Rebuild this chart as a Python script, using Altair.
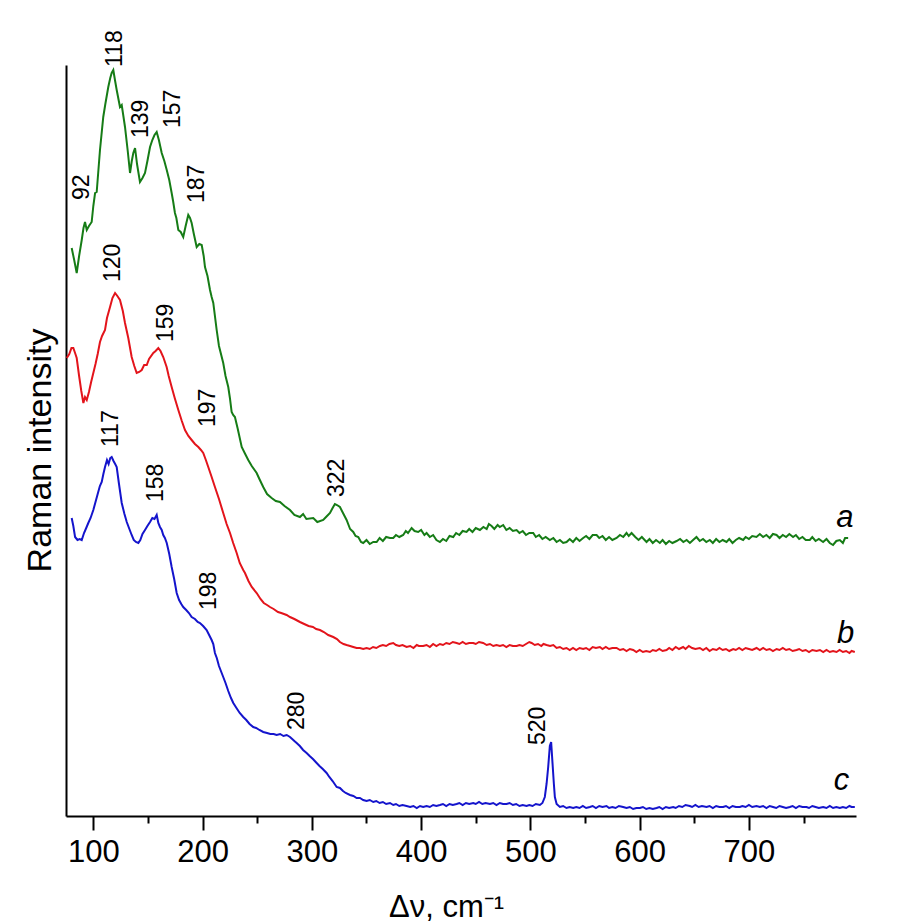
import altair as alt
import pandas as pd

# Raman shift (cm-1), intensity (arbitrary units, offset-stacked curves)
CURVE_A = [
    (80.2, 568), (82.5, 556), (84.8, 543), (87, 560), (89.4, 576), (91, 588), (92.4, 594), (94.0, 586),
    (96, 590), (98.5, 594), (100, 610), (101.6, 623), (103.1, 624), (106.1, 666), (109.1, 699), (111, 712),
    (113.7, 729), (115.5, 738), (116.8, 743), (118.3, 746), (119.8, 736), (121.4, 726), (124.4, 709),
    (126.0, 711), (127.5, 700), (129.0, 689), (131.5, 665), (133.6, 643), (135.2, 655), (136.6, 663),
    (138.2, 668), (140, 652), (142.7, 634), (145, 638), (147.3, 643), (149.5, 655), (151.9, 669), (154, 676),
    (156, 681), (158.0, 684), (160, 676), (162.6, 663), (165, 655), (167.2, 646), (169.5, 636), (171.7, 623),
    (173, 615), (174.7, 603), (176, 598), (177.8, 586), (180, 584), (182.3, 579), (184.5, 590), (186.9, 601),
    (188.5, 598), (190.0, 593), (192, 582), (194.6, 569), (197, 572), (199.2, 571), (201, 560), (202.2, 549),
    (204.5, 540), (206.8, 526), (208.3, 519), (209.8, 513), (212.9, 486), (215, 470), (218.9, 453), (221, 440),
    (223.5, 429), (225, 418), (226.6, 404), (228, 401), (229.6, 399), (232, 388), (235.8, 369), (239, 362),
    (241.8, 356), (245, 350), (249.5, 343), (252, 337), (255.5, 329), (259, 322), (263.2, 318), (267, 315),
    (270.8, 314), (275, 310), (280.0, 306), (284, 301), (289.1, 299), (292, 302), (295, 297), (301.3, 298),
    (305, 294), (310.4, 296), (313, 299), (316.6, 303), (319, 308), (321.1, 312), (323, 311), (325.7, 309),
    (328.5, 303), (331.8, 296), (335, 287), (337.9, 284), (340, 280), (342.5, 279), (345, 274), (347, 273),
    (350, 276), (353, 272), (356.2, 274), (359.3, 274), (362, 278), (365, 275), (368, 279), (371.5, 278),
    (374.5, 278), (377, 281), (380, 279), (383.6, 281), (386, 285), (388, 283), (391.3, 288), (394, 285),
    (397.3, 284), (400, 286), (403, 281), (405, 283), (408.0, 279), (411, 281), (414, 276), (417.2, 274),
    (420, 277), (423, 275), (426, 280), (429.4, 279), (432, 283), (435, 281), (438, 285), (441.6, 284),
    (444, 287), (447, 284), (450, 288), (453.8, 286), (457, 289), (460, 287), (462, 292), (464.5, 290),
    (467, 287), (470, 291), (472, 289), (475.1, 291), (478, 286), (481, 288), (484, 285), (487.4, 286),
    (490, 283), (493, 285), (496, 281), (499, 283), (502.6, 283), (505, 279), (508, 281), (511, 277),
    (514, 279), (517.8, 276), (521, 278), (524, 274), (527, 276), (530, 273), (533.1, 274), (536, 277),
    (539, 274), (542, 278), (545, 275), (548.3, 278), (551, 280), (554, 277), (557, 281), (560.6, 281),
    (563, 278), (566, 280), (569, 276), (572, 279), (575, 276), (578.9, 278), (582, 281), (585, 279),
    (588, 283), (590, 280), (592.6, 283), (596, 279), (599, 276), (602, 279), (606.3, 274), (609, 277),
    (612, 273), (615, 276), (618.5, 273), (621, 276), (624, 272), (627, 275), (630, 273), (633.8, 275),
    (637, 277), (640, 274), (643, 276), (646, 273), (648.9, 276), (652, 279), (655, 275), (658, 277),
    (661, 274), (664.2, 276), (667, 273), (670, 277), (673, 274), (676, 276), (679.5, 274), (682, 277),
    (685, 273), (688, 276), (691, 278), (694.7, 276), (697, 279), (700, 277), (703, 280), (706.9, 279),
    (710, 282), (713, 279), (716, 281), (719, 278), (722, 282), (725.3, 281), (728, 278), (731, 281),
    (734, 279), (737, 282), (740.4, 279), (743, 281), (746, 277), (749, 279), (752, 276), (755.7, 276),
    (758, 279), (761, 275), (764, 277), (767.9, 274), (771, 277), (774, 273), (777.0, 271), (780, 275),
    (783.2, 276), (786, 273), (788, 278), (790.8, 278),
]

CURVE_B = [
    (75.7, 458), (78, 462), (80, 468), (81.7, 468), (83.3, 463), (84.8, 458), (87, 440), (89, 425),
    (90.9, 413), (92.4, 419), (94.0, 416), (96, 424), (98, 434), (100.0, 443), (102, 452), (104, 462),
    (106.1, 474), (108, 480), (110.7, 486), (112.5, 498), (115.3, 509), (117.5, 518), (119.9, 523), (122, 520),
    (124.4, 516), (127, 505), (129.0, 493), (132, 478), (135.1, 459), (137.5, 450), (139.7, 443), (142, 444),
    (144.3, 446), (146.5, 451), (148.9, 451), (151, 457), (154.9, 463), (157, 465), (159.5, 468), (161.5, 465),
    (164.0, 459), (167.1, 449), (169, 440), (171.7, 429), (174.5, 418), (177.8, 406), (181, 395), (183.9, 386),
    (187, 380), (190.0, 376), (193, 372), (196.1, 369), (198.5, 366), (200.6, 363), (203, 356), (205.2, 349),
    (208, 340), (211.3, 329), (215, 317), (218.9, 303), (222, 292), (225.1, 283), (228.0, 273), (231.2, 263),
    (234, 253), (237.2, 246), (238.8, 243), (242, 235), (245, 229), (249.5, 223), (253, 217), (256, 213),
    (259, 211), (261.7, 209), (265, 207), (269, 204), (272, 203), (276.9, 201), (280, 199), (284, 197),
    (289.1, 194), (293, 192), (297, 190), (301, 189), (304, 187), (307.4, 186), (311, 184), (315, 181),
    (319.6, 179), (323, 177), (325.7, 174), (329, 172), (331.8, 171), (335, 170), (337.9, 169), (341, 168),
    (344.0, 168), (347, 167), (350.1, 168), (353, 167), (356, 169), (359, 168), (362.3, 170), (365, 171),
    (368, 170), (371, 172), (374.5, 173), (377, 171), (380, 170), (383, 171), (386.7, 169), (390, 170),
    (393, 168), (396, 171), (398, 170), (401.9, 170), (405, 171), (408, 169), (411, 172), (414, 170),
    (417.2, 172), (420, 171), (423, 173), (426, 172), (429, 174), (432.5, 173), (435, 172), (438, 174),
    (441, 172), (444, 173), (447.7, 173), (450, 172), (453, 174), (456.8, 173), (460, 171), (463, 172),
    (466, 170), (469, 171), (472.1, 170), (475, 171), (478, 169), (481, 171), (484, 170), (487.4, 170),
    (490, 171), (493, 170), (496, 172), (499, 174), (501.1, 173), (504, 171), (507, 172), (510, 170),
    (512, 172), (514.8, 171), (518, 170), (521, 171), (524, 168), (527, 169), (530, 167), (533.1, 168),
    (536, 166), (539, 168), (542, 166), (545, 168), (548.3, 167), (551, 168), (554, 166), (557, 169),
    (560, 168), (563.6, 169), (566, 167), (569, 169), (572, 167), (575, 168), (578.9, 168), (582, 166),
    (585, 167), (588, 165), (591, 167), (594.1, 166), (597, 164), (600, 166), (603, 164), (606, 165),
    (609.4, 164), (612, 166), (615, 165), (618, 167), (621, 165), (624.6, 166), (627, 168), (630, 166),
    (633, 169), (636, 167), (639.8, 169), (642, 167), (645, 170), (648, 168), (651, 167), (655.1, 168),
    (658, 166), (661, 168), (664, 165), (667, 167), (670.4, 166), (673, 168), (676, 166), (679, 167),
    (682, 165), (685.6, 167), (688, 166), (691, 168), (694, 166), (697, 168), (700, 167), (703, 166),
    (707.0, 168), (710, 166), (713, 168), (716, 166), (719, 167), (722, 165), (725.3, 167), (728, 166),
    (731, 168), (734, 166), (737, 167), (740, 165), (743.6, 166), (746, 167), (749, 165), (752, 166),
    (755, 164), (758, 166), (761.9, 165), (765, 166), (768, 164), (771, 166), (774, 164), (777, 165),
    (780.2, 164), (783, 166), (786, 164), (789, 165), (792, 163), (794, 165), (796.9, 164),
]

CURVE_C = [
    (80.2, 298), (81.7, 290), (83.3, 279), (85.5, 276), (87.5, 277), (89.4, 276), (91.5, 283), (93.5, 288),
    (95.4, 293), (97.5, 298), (100.0, 306), (102, 314), (104, 322), (106, 330), (107.7, 334), (109.2, 342),
    (110.7, 349), (112.5, 356), (114, 352), (115.5, 358), (116.8, 359), (118.5, 355), (120, 352), (121.4, 349),
    (123.5, 332), (126.0, 313), (128.5, 302), (130.6, 294), (133, 287), (135.1, 281), (137, 276), (139, 274),
    (141.2, 273), (143, 276), (145, 282), (147.3, 286), (149.5, 290), (151.9, 294), (154, 298), (156, 297),
    (158.0, 301), (159.5, 293), (161, 289), (162.6, 286), (164, 281), (165.5, 278), (167.2, 273), (169.5, 262),
    (171.7, 249), (174, 237), (176.3, 223), (178.5, 216), (180.5, 212), (182.3, 209), (185, 206), (187.5, 203),
    (190.0, 199), (193, 197), (195.5, 194), (197.6, 193), (200.5, 190), (203.7, 186), (206, 181), (208.3, 176),
    (209.8, 172), (211.3, 163), (213, 158), (215, 150), (218.9, 139), (221, 133), (223.5, 125), (226, 118),
    (228.1, 113), (231, 108), (234, 103), (237.2, 99), (240, 96), (243, 92), (246.4, 89), (249, 88),
    (252, 86), (255.5, 84), (259, 83), (262, 82), (265, 82), (267.8, 81), (271, 82), (274, 80),
    (277, 81), (280.0, 79), (282, 77), (284, 75), (286.1, 73), (289, 70), (292, 66), (295.2, 63),
    (298, 60), (301, 57), (304.4, 53), (307, 50), (310, 47), (313.5, 43), (316, 39), (319, 35),
    (322.7, 29), (325.7, 28), (328.5, 25), (331, 23), (334.9, 21), (338, 20), (341, 18), (344.0, 18),
    (347, 16), (350.1, 15), (353, 16), (356.2, 14), (359, 15), (362, 13), (365, 14), (368, 12),
    (371.5, 13), (374.5, 11), (377, 12), (380, 10), (383, 11), (386.7, 10), (390, 9), (393, 10),
    (396, 8), (399, 10), (401.9, 9), (405, 10), (408, 9), (411, 11), (414, 10), (417.2, 11),
    (420, 12), (423, 10), (426, 12), (429, 11), (432.5, 12), (435, 13), (438, 11), (441, 13),
    (444, 12), (447.7, 13), (450, 12), (453, 14), (456, 12), (459, 13), (463.0, 12), (466, 13),
    (469, 11), (472, 13), (475, 12), (478.2, 12), (481, 13), (484, 11), (487, 12), (490, 10),
    (493, 11), (496.5, 10), (499, 11), (502, 10), (505, 12), (508.7, 11), (511, 13), (513.2, 19),
    (514.8, 32), (516.3, 49), (517.8, 70), (519, 74), (520.3, 52), (521.5, 32), (522.4, 19), (524, 12),
    (527.0, 9), (530, 10), (533, 8), (536, 9), (539.2, 8), (542, 9), (545, 8), (548, 10),
    (551, 8), (554.4, 9), (557, 10), (560, 8), (563, 10), (566, 9), (569.7, 10), (572, 8),
    (575, 9), (578, 8), (581, 10), (584.9, 9), (588, 8), (591, 9), (594, 7), (597, 8),
    (600.2, 8), (603, 9), (606, 7), (609, 8), (612, 7), (615.5, 8), (618, 9), (621, 7),
    (624, 9), (627, 8), (630.7, 9), (633, 8), (636, 10), (639, 9), (642, 11), (645.9, 10),
    (648, 9), (651, 11), (654, 9), (657, 10), (661.2, 9), (664, 10), (667, 8), (670, 10),
    (673, 9), (676.4, 9), (679, 10), (682, 8), (685, 10), (688, 9), (691.7, 9), (694, 10),
    (697, 9), (700, 11), (703, 9), (706.9, 10), (710, 9), (713, 10), (716, 8), (719, 10),
    (722.1, 9), (725, 8), (728, 10), (731, 9), (734, 8), (737.4, 9), (740, 10), (743, 8),
    (746, 10), (749, 9), (752.7, 9), (755, 8), (758, 10), (761, 9), (764, 8), (767.9, 9),
    (771, 8), (774, 10), (777, 8), (780, 9), (783.2, 8), (786, 9), (789, 8), (792, 10),
    (794, 9), (796.9, 9),
]

SERIES_NAMES = ["a", "b", "c"]
SERIES_COLORS = ["#167c16", "#e3141b", "#1414cc"]

# peak annotations: text, shift position, intensity at start of the (rotated) label
PEAK_TEXT = ["92", "118", "139", "157", "187", "120", "159", "197", "117", "158", "322", "198", "280", "520"]
PEAK_X = [89.4, 119.9, 143.5, 172.5, 195.3, 117.6, 166.3, 204.5, 116.0, 157.2, 323.4, 206.0, 286.0, 507.2]
PEAK_Y = [616, 749, 678, 688, 613, 534, 474, 389, 369, 314, 319, 206, 86, 71]

# curve letters
LETTER_TEXT = ["a", "b", "c"]
LETTER_X = [787.9, 788.6, 784.7]
LETTER_Y = [289, 173, 26]

X_TICKS = [100, 150, 200, 250, 300, 350, 400, 450, 500, 550, 600, 650, 700, 750]

rows = []
for name, pts in zip(SERIES_NAMES, [CURVE_A, CURVE_B, CURVE_C]):
    for i, (x, y) in enumerate(pts):
        rows.append({"series": name, "shift": x, "intensity": y, "order": i})
df = pd.DataFrame(rows)
peaks = pd.DataFrame({"text": PEAK_TEXT, "shift": PEAK_X, "intensity": PEAK_Y})
letters = pd.DataFrame({"text": LETTER_TEXT, "shift": LETTER_X, "intensity": LETTER_Y})

FONT = "Liberation Sans"

x_scale = alt.Scale(domain=[75, 798], nice=False, zero=False)
y_scale = alt.Scale(domain=[0, 751], nice=False, zero=False)

x_axis = alt.Axis(
    title="Δν, cm⁻¹",
    values=X_TICKS,
    labelExpr="datum.value % 100 === 0 ? datum.label : ''",
    tickSize={"condition": {"test": "datum.value % 100 === 0", "value": 14}, "value": 7},
    tickWidth=2,
    tickColor="black",
    domainColor="black",
    domainWidth=2,
    grid=False,
    labelFont=FONT,
    labelFontSize=31,
    labelColor="black",
    labelPadding=7,
    labelFlush=False,
    labelOverlap=False,
    titleFont=FONT,
    titleFontSize=31,
    titleFontWeight="normal",
    titleColor="black",
    titleX=380,
    titleY=100,
    titleBaseline="alphabetic",
    titleAlign="center",
)

y_axis = alt.Axis(
    title="Raman intensity",
    ticks=False,
    labels=False,
    grid=False,
    domainColor="black",
    domainWidth=2,
    titleFont=FONT,
    titleFontSize=34,
    titleFontWeight="normal",
    titleColor="black",
    titleX=-16,
    titleY=385,
    titleAngle=270,
    titleBaseline="alphabetic",
    titleAlign="center",
)

lines = alt.Chart(df).mark_line(strokeWidth=2).encode(
    x=alt.X("shift:Q", scale=x_scale, axis=x_axis),
    y=alt.Y("intensity:Q", scale=y_scale, axis=y_axis),
    color=alt.Color("series:N", scale=alt.Scale(domain=SERIES_NAMES, range=SERIES_COLORS), legend=None),
    order="order:Q",
)

peak_text = alt.Chart(peaks).mark_text(
    angle=270, align="left", baseline="middle", font=FONT, fontSize=23, color="black"
).encode(
    x=alt.X("shift:Q", scale=x_scale),
    y=alt.Y("intensity:Q", scale=y_scale),
    text="text:N",
)

letter_text = alt.Chart(letters).mark_text(
    align="center", baseline="alphabetic", font=FONT, fontSize=31, fontStyle="italic", color="black"
).encode(
    x=alt.X("shift:Q", scale=x_scale),
    y=alt.Y("intensity:Q", scale=y_scale),
    text="text:N",
)

chart = alt.layer(lines, peak_text, letter_text).properties(
    width=790,
    height=751,
    padding={"left": 58, "top": 57, "right": 35, "bottom": 107},
    autosize=alt.AutoSizeParams(type="none"),
    background="white",
).configure_view(stroke=None)

chart.save("out.html", embed_options={"renderer": "svg", "actions": False})
